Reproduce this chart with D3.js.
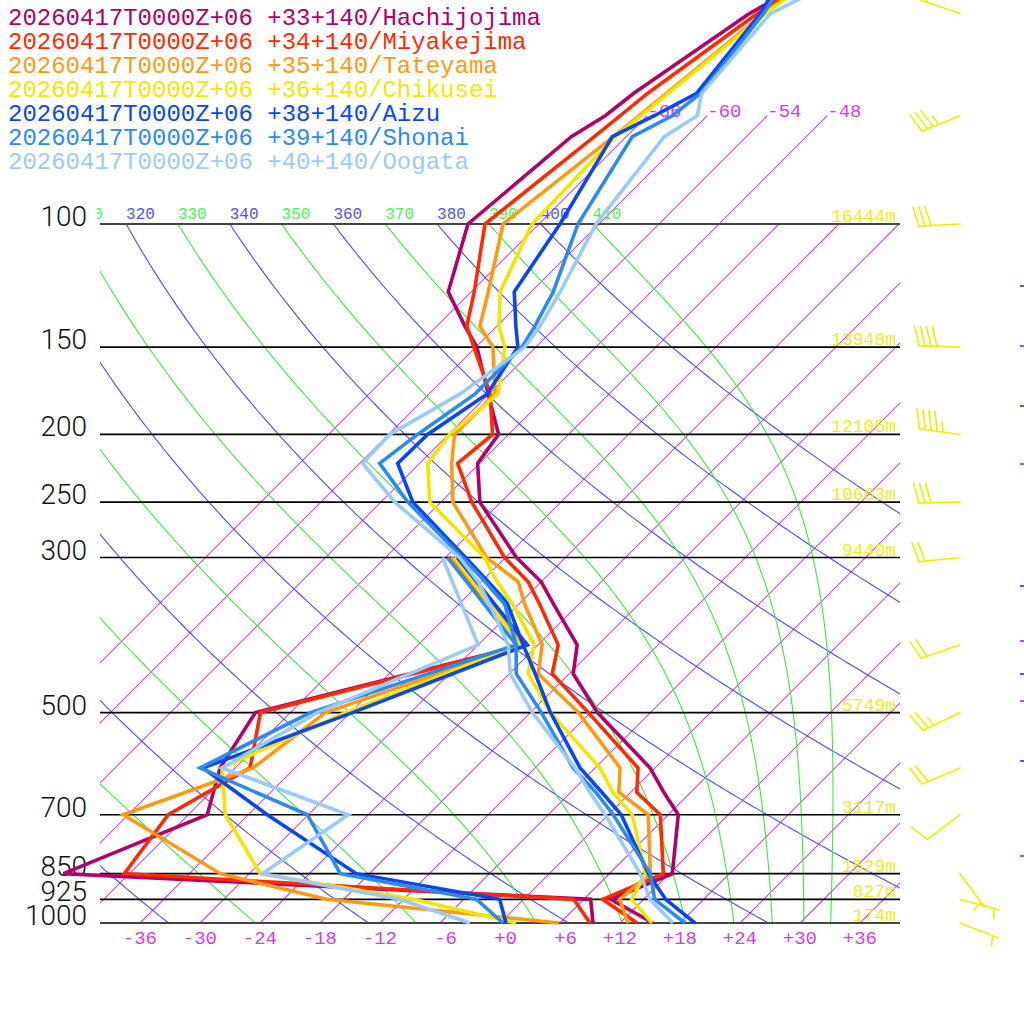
<!DOCTYPE html>
<html><head><meta charset="utf-8">
<script src="https://cdn.jsdelivr.net/npm/d3@7"></script>
<style>html,body{margin:0;padding:0;background:#fff;}</style>
</head><body>
<svg id="chart" width="1024" height="1024"></svg>
<script>
// ---------------- DATA ----------------
const stationNames = [
  "20260417T0000Z+06 +33+140/Hachijojima",
  "20260417T0000Z+06 +34+140/Miyakejima",
  "20260417T0000Z+06 +35+140/Tateyama",
  "20260417T0000Z+06 +36+140/Chikusei",
  "20260417T0000Z+06 +38+140/Aizu",
  "20260417T0000Z+06 +39+140/Shonai",
  "20260417T0000Z+06 +40+140/Oogata"
];
const stationColors = ["#b0006a", "#ff2a00", "#ff9a10", "#f2e600", "#0a46f0", "#2a8aee", "#9ccaf8"];

// temperature profile levels (hPa)
const tempLevels = [1000, 925, 850, 700, 650, 600, 500, 440, 400, 350, 325, 300, 250, 220, 200, 175, 150, 140, 125, 100, 75, 70, 65, 50, 45];
const tempHachijojima = [15.3, 8.7, 12.3, 7.0, 3.3, -0.5, -11.3, -17.6, -20.1, -26.5, -30.0, -34.9, -44.1, -48.2, -49.0, -54.1, -59.9, -63.2, -68.3, -73.1, -71.5, -70.2, -69.6, -66.0, -63.5];
const tempMiyakejima  = [13.7, 7.9, 11.4, 5.2, 0.6, -1.7, -12.2, -19.7, -22.0, -27.9, -31.3, -36.1, -44.9, -50.2, -49.6, -53.9, -60.2, -63.0, -65.7, -71.4, -69.2, -68.7, -68.2, -65.2, -63.4];
const tempTateyama    = [12.8, 9.6, 10.1, 4.0, -1.2, -3.5, -13.2, -21.1, -23.6, -29.4, -32.3, -37.9, -46.8, -50.8, -53.4, -53.4, -58.3, -61.7, -64.3, -69.6, -67.3, -66.8, -66.3, -64.6, -63.3];
const tempChikusei    = [15.2, 10.8, 9.6, 2.4, -1.8, -5.5, -16.0, -22.1, -24.4, -30.6, -34.4, -38.1, -49.1, -53.2, -53.9, -53.1, -57.1, -59.8, -63.1, -66.7, -67.1, -66.6, -66.1, -64.4, -63.3];
const tempAizu        = [19.5, 14.2, 9.9, 1.3, -2.9, -7.5, -16.0, -21.4, -25.5, -31.1, -35.3, -40.0, -50.8, -56.2, -56.1, -54.2, -55.8, -58.1, -61.7, -63.9, -67.4, -65.3, -63.3, -64.9, -66.2];
const tempShonai      = [18.5, 13.1, 10.1, 0.5, -3.5, -8.2, -16.9, -23.3, -26.2, -31.4, -35.6, -40.3, -51.3, -58.0, -57.1, -55.4, -55.4, -56.2, -57.8, -62.1, -65.4, -63.5, -62.9, -64.6, -65.7];
const tempOogata      = [17.3, 12.6, 9.1, -0.3, -4.1, -8.0, -17.8, -23.9, -27.0, -32.9, -36.3, -40.6, -52.6, -59.7, -59.9, -56.9, -55.1, -55.7, -57.1, -60.3, -62.2, -61.0, -62.8, -63.9, -60.7];

// dewpoint profile levels (hPa)
const dewLevels = [1000, 925, 850, 700, 600, 500, 400, 300];
const dewHachijojima = [9.3, 6.7, -48.6, -40.1, -43.5, -45.5, -25.3, -41.6];
const dewMiyakejima  = [9.0, 5.0, -42.5, -44.0, -40.5, -45.0, -25.1, -41.8];
const dewTateyama    = [5.9, -19.7, -32.9, -48.5, -40.2, -38.5, -25.5, -41.4];
const dewChikusei    = [1.6, -11.0, -28.9, -38.3, -43.3, -36.5, -25.8, -41.1];
const dewAizu        = [0.6, -2.4, -19.3, -34.1, -45.2, -35.8, -25.1, -40.8];
const dewShonai      = [0.3, -4.7, -20.9, -30.1, -45.5, -40.0, -26.2, -41.8];
const dewOogata      = [-3.0, -12.4, -28.7, -26.0, -43.3, -39.3, -30.0, -42.3];

const tempSeries = [tempHachijojima, tempMiyakejima, tempTateyama, tempChikusei, tempAizu, tempShonai, tempOogata];
const dewSeries  = [dewHachijojima, dewMiyakejima, dewTateyama, dewChikusei, dewAizu, dewShonai, dewOogata];

// winds
const windLevels = [1000, 925, 850, 700, 600, 500, 400, 300, 250, 200, 150, 100, 70, 50];
const windDir    = [111, 105, 144, 233, 247, 244, 251, 264, 269, 278, 272, 267, 248, 289];
const windSpeed  = [5, 5, 5, 10, 20, 25, 20, 20, 30, 45, 40, 30, 35, 20];

// geopotential height labels
const heightLevels = [1000, 925, 850, 700, 500, 300, 250, 200, 150, 100];
const heightValues = ["174m", "827m", "1529m", "3117m", "5749m", "9440m", "10663m", "12105m", "13948m", "16444m"];

// axes / grid
const pressureTicks = [100, 150, 200, 250, 300, 500, 700, 850, 925, 1000];
const tempTicks = [-36, -30, -24, -18, -12, -6, 0, 6, 12, 18, 24, 30, 36];
const isotherms = [-66, -60, -54, -48, -42, -36, -30, -24, -18, -12, -6, 0, 6, 12, 18, 24, 30, 36, 42];
const labelledIsotherms = [-66, -60, -54, -48];
const dryThetas = [240, 260, 280, 300, 320, 340, 360, 380, 400];
const moistThetas = [250, 270, 290, 310, 330, 350, 370, 390, 410];
const thetaLabels = [310, 320, 330, 340, 350, 360, 370, 380, 390, 400, 410];
const edgeMarks = [285, 345, 405, 463, 585, 640, 673, 700, 760, 855];

// ---------------- SCALES ----------------
const svg = d3.select("#chart");
const yScale = d3.scaleLog().domain([1000, 100]).range([923, 224]);
const tScale = d3.scaleLinear().domain([-40, 40]).range([100, 900]);
const skewX = (T, p) => tScale(T) + (yScale(1000) - yScale(p));

const MONO = "'Liberation Mono','DejaVu Sans Mono',monospace";
const ISO_C = "#d040e0", DRY_C = "#4a4af0", MOIST_C = "#3ee83e";

svg.append("rect").attr("width", 1024).attr("height", 1024).attr("fill", "#fff");

const defs = svg.append("defs");
defs.append("clipPath").attr("id", "plotClip").append("rect")
  .attr("x", 100).attr("y", 100).attr("width", 800).attr("height", 824);
defs.append("clipPath").attr("id", "labelClip").append("rect")
  .attr("x", 97).attr("y", 0).attr("width", 810).attr("height", 1024);

const grid = svg.append("g").attr("clip-path", "url(#plotClip)");
const line = d3.line();

// isotherms
isotherms.forEach(T => {
  const pTop = labelledIsotherms.includes(T) ? 70 : 100;
  grid.append("line")
    .attr("x1", skewX(T, 1000)).attr("y1", yScale(1000))
    .attr("x2", skewX(T, pTop)).attr("y2", yScale(pTop))
    .attr("stroke", ISO_C).attr("stroke-width", 1.1);
});

// pressures for drawing curves
const curveP = [];
for (let p = 100; p <= 1000; p += 5) curveP.push(p);

// dry adiabats
const KAPPA = 287.04 / 1005.7;
dryThetas.forEach(th => {
  const pts = curveP.map(p => [skewX(th * Math.pow(p / 1000, KAPPA) - 273.15, p), yScale(p)]);
  grid.append("path").attr("d", line(pts)).attr("fill", "none")
    .attr("stroke", DRY_C).attr("stroke-width", 1.1);
});

// moist (pseudo) adiabats, integrated downward from 100 hPa
function moistRate(T, p) {
  const Rd = 287.04, cp = 1005.7, Lv = 2.501e6, eps = 0.622;
  const Tc = T - 273.15;
  const es = 6.112 * Math.exp(17.67 * Tc / (Tc + 243.5));
  const rs = eps * es / (p - es);
  return (Rd * T + Lv * rs) / (p * (cp + Lv * Lv * rs * eps / (Rd * T * T)));
}
moistThetas.forEach(th => {
  let T = th * Math.pow(0.1, KAPPA);
  const pts = [[skewX(T - 273.15, 100), yScale(100)]];
  const dp = 1;
  for (let p = 100; p < 1000; p += dp) {
    const k1 = moistRate(T, p);
    const k2 = moistRate(T + k1 * dp / 2, p + dp / 2);
    const k3 = moistRate(T + k2 * dp / 2, p + dp / 2);
    const k4 = moistRate(T + k3 * dp, p + dp);
    T += dp * (k1 + 2 * k2 + 2 * k3 + k4) / 6;
    if ((p + dp) % 5 === 0) pts.push([skewX(T - 273.15, p + dp), yScale(p + dp)]);
  }
  grid.append("path").attr("d", line(pts)).attr("fill", "none")
    .attr("stroke", MOIST_C).attr("stroke-width", 1.1);
});

// pressure lines
svg.append("g").selectAll("line").data(pressureTicks).join("line")
  .attr("x1", 100).attr("x2", 900)
  .attr("y1", d => yScale(d)).attr("y2", d => yScale(d))
  .attr("stroke", d => (d === 100 || d === 1000) ? "#444" : "#000")
  .attr("stroke-width", d => (d === 100 || d === 1000) ? 2 : 1.6);

// pressure labels
svg.append("g").selectAll("text").data(pressureTicks).join("text")
  .attr("x", 87).attr("y", d => yScale(d) + 2)
  .attr("text-anchor", "end")
  .attr("font-family", "Roboto,'Liberation Sans',sans-serif")
  .attr("font-weight", 300)
  .attr("font-size", 28).attr("fill", "#111")
  .text(d => d);

// temperature tick labels
svg.append("g").selectAll("text").data(tempTicks).join("text")
  .attr("x", d => tScale(d) + 17).attr("y", 944)
  .attr("text-anchor", "end")
  .attr("font-family", MONO).attr("font-size", 19).attr("fill", ISO_C)
  .text(d => (d > 0 ? "+" + d : d === 0 ? "+0" : "" + d));

// theta labels along 100 hPa
svg.append("g").attr("clip-path", "url(#labelClip)")
  .selectAll("text").data(thetaLabels).join("text")
  .attr("x", d => skewX(d * Math.pow(0.1, KAPPA) - 273.15, 100))
  .attr("y", yScale(100) - 5)
  .attr("font-family", MONO).attr("font-size", 16)
  .attr("fill", d => (d % 20 === 0) ? "#5252ee" : "#50ee50")
  .text(d => d);

// isotherm labels at top
svg.append("g").selectAll("text").data(labelledIsotherms).join("text")
  .attr("x", d => skewX(d, 70)).attr("y", yScale(70) + 1)
  .attr("font-family", MONO).attr("font-size", 19).attr("fill", ISO_C)
  .text(d => d);

// height labels
svg.append("g").selectAll("text").data(heightLevels).join("text")
  .attr("x", 896).attr("y", (d, i) => yScale(d) - 2)
  .attr("text-anchor", "end")
  .attr("font-family", MONO).attr("font-size", 18).attr("fill", "#ecec1c")
  .text((d, i) => heightValues[i]);

// ---------------- PROFILES ----------------
const prof = svg.append("g");
stationNames.forEach((name, i) => {
  const tPts = tempLevels.map((p, k) => [skewX(tempSeries[i][k], p), yScale(p)]);
  const dPts = dewLevels.map((p, k) => [skewX(dewSeries[i][k], p), yScale(p)]);
  [tPts, dPts].forEach(pts => {
    prof.append("path").attr("d", line(pts)).attr("fill", "none")
      .attr("stroke", stationColors[i]).attr("stroke-width", 3.6)
      .attr("stroke-linejoin", "miter").attr("stroke-miterlimit", 4);
  });
});

// ---------------- LEGEND ----------------
svg.append("g").selectAll("text").data(stationNames).join("text")
  .attr("x", 8).attr("y", (d, i) => 25 + i * 24)
  .attr("font-family", MONO).attr("font-size", 24)
  .attr("fill", (d, i) => stationColors[i])
  .text(d => d);

// ---------------- WIND BARBS ----------------
const barbs = svg.append("g").attr("stroke", "#eeee00").attr("stroke-width", 1.6)
  .attr("fill", "none").attr("stroke-linecap", "round");
windLevels.forEach((p, i) => {
  const x0 = 960, y0 = yScale(p);
  const rad = windDir[i] * Math.PI / 180;
  const ux = Math.sin(rad), uy = -Math.cos(rad);
  const L = 41;
  const tx = x0 + ux * L, ty = y0 + uy * L;
  barbs.append("line").attr("x1", x0).attr("y1", y0).attr("x2", tx).attr("y2", ty);
  const px = -uy, py = ux, a = 75 * Math.PI / 180;
  const fx = Math.cos(a) * ux + Math.sin(a) * px, fy = Math.cos(a) * uy + Math.sin(a) * py;
  let s = Math.round(windSpeed[i] / 5) * 5;
  let full = Math.floor(s / 10), half = (s % 10) >= 5 ? 1 : 0;
  let pos = 0;
  const gap = 6;
  for (let k = 0; k < full; k++) {
    const bx = tx - ux * pos, by = ty - uy * pos;
    barbs.append("line").attr("x1", bx).attr("y1", by).attr("x2", bx + fx * 20).attr("y2", by + fy * 20);
    pos += gap;
  }
  if (half) {
    if (pos === 0) pos = gap;
    const bx = tx - ux * pos, by = ty - uy * pos;
    barbs.append("line").attr("x1", bx).attr("y1", by).attr("x2", bx + fx * 10).attr("y2", by + fy * 10);
  }
});

// tiny clipped marks at right edge
svg.append("g").selectAll("rect").data(edgeMarks).join("rect")
  .attr("x", 1020).attr("y", d => d).attr("width", 4).attr("height", 2)
  .attr("fill", (d, i) => i % 2 ? "#b050d0" : "#5a5ae0");
</script>
</body></html>
